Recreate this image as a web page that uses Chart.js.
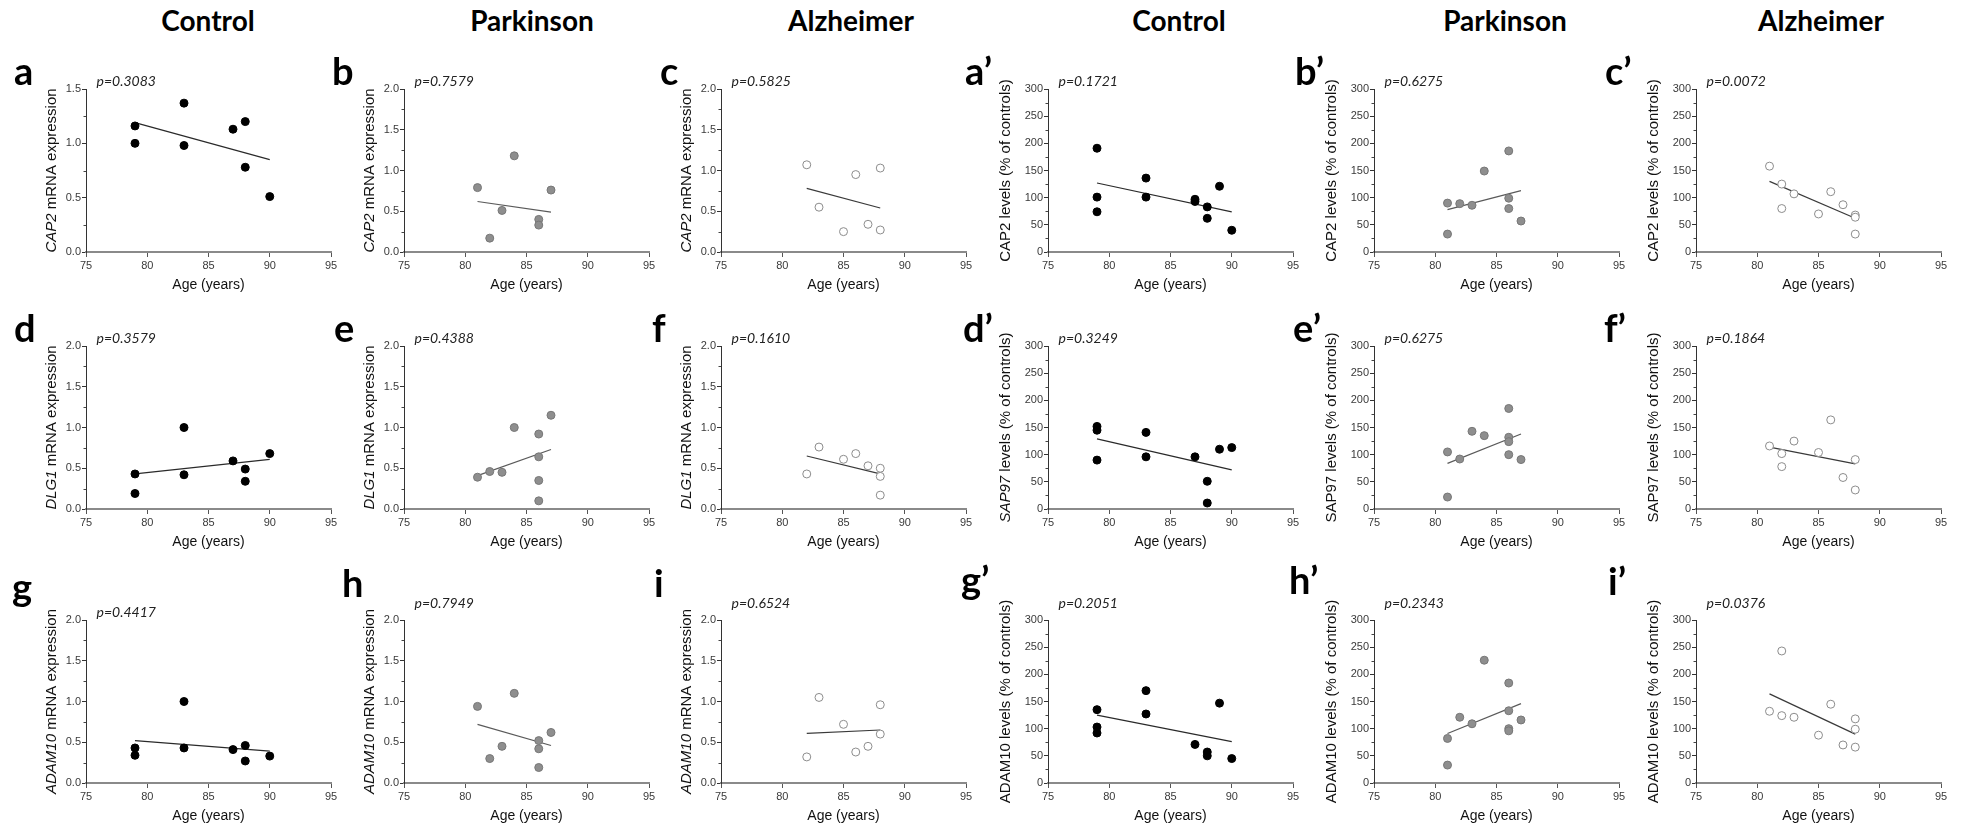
<!DOCTYPE html>
<html>
<head>
<meta charset="utf-8">
<title>CAP2, SAP97/DLG1 and ADAM10 versus age</title>
<script src="https://cdn.jsdelivr.net/npm/chart.js@4.4.1/dist/chart.umd.min.js"></script>
<style>
  html, body { margin: 0; padding: 0; background: #fff; }
  #fig { position: relative; width: 1964px; height: 830px; overflow: hidden; }
  #fig canvas { position: absolute; }
  .txt { position: absolute; white-space: nowrap; color: #000; line-height: 1.2; }
  .hdr { font: bold 28px Lato, "Open Sans", sans-serif; text-align: center; width: 300px; }
  .lbl { font: bold 38px Lato, "Open Sans", sans-serif; }
</style>
</head>
<body>
<div id="fig"></div>
<script>
// ---- data ----
const columnHeaders = ["Control", "Parkinson", "Alzheimer", "Control", "Parkinson", "Alzheimer"];
const panelLetters = ["a", "b", "c", "a’", "b’", "c’",
                      "d", "e", "f", "d’", "e’", "f’",
                      "g", "h", "i", "g’", "h’", "i’"];
const pValues = ["p=0.3083", "p=0.7579", "p=0.5825", "p=0.1721", "p=0.6275", "p=0.0072",
                 "p=0.3579", "p=0.4388", "p=0.1610", "p=0.3249", "p=0.6275", "p=0.1864",
                 "p=0.4417", "p=0.7949", "p=0.6524", "p=0.2051", "p=0.2343", "p=0.0376"];
const xTickMin = 75, xTickMax = 95, xTickStep = 5;

// mRNA expression (a-i), ages in years
const ageA = [79, 79, 83, 83, 87, 88, 88, 90];
const valA = [1.16, 1.00, 1.37, 0.98, 1.13, 1.20, 0.78, 0.51];
const fitA = [1.19, 0.85];
const ageB = [81, 82, 83, 84, 86, 86, 87];
const valB = [0.79, 0.17, 0.51, 1.18, 0.40, 0.33, 0.76];
const fitB = [0.62, 0.49];
const ageC = [82, 83, 85, 86, 87, 88, 88];
const valC = [1.07, 0.55, 0.25, 0.95, 0.34, 1.03, 0.27];
const fitC = [0.78, 0.54];
const ageD = [79, 79, 83, 83, 87, 88, 88, 90];
const valD = [0.43, 0.19, 1.00, 0.42, 0.59, 0.49, 0.34, 0.68];
const fitD = [0.43, 0.61];
const ageE = [81, 82, 83, 84, 86, 86, 86, 86, 87];
const valE = [0.39, 0.46, 0.45, 1.00, 0.92, 0.64, 0.35, 0.10, 1.15];
const fitE = [0.41, 0.73];
const ageF = [82, 83, 85, 86, 87, 88, 88, 88];
const valF = [0.43, 0.76, 0.61, 0.68, 0.53, 0.50, 0.40, 0.17];
const fitF = [0.65, 0.43];
const ageG = [79, 79, 83, 83, 87, 88, 88, 90];
const valG = [0.43, 0.34, 1.00, 0.43, 0.41, 0.46, 0.27, 0.33];
const fitG = [0.52, 0.39];
const ageH = [81, 82, 83, 84, 86, 86, 86, 87];
const valH = [0.94, 0.30, 0.45, 1.10, 0.52, 0.42, 0.19, 0.62];
const fitH = [0.72, 0.46];
const ageI = [82, 83, 85, 86, 87, 88, 88];
const valI = [0.32, 1.05, 0.72, 0.38, 0.45, 0.96, 0.60];
const fitI = [0.61, 0.65];

// protein levels, % of controls (a'-i')
const ageA2 = [79, 79, 79, 83, 83, 87, 87, 88, 88, 89, 90];
const valA2 = [191, 101, 74, 136, 101, 97, 93, 83, 62, 121, 40];
const fitA2 = [127, 74];
const ageB2 = [81, 81, 82, 83, 84, 86, 86, 86, 87];
const valB2 = [90, 33, 89, 86, 149, 186, 99, 80, 57];
const fitB2 = [78, 113];
const ageC2 = [81, 82, 82, 83, 85, 86, 87, 88, 88, 88];
const valC2 = [158, 125, 80, 107, 70, 111, 87, 68, 64, 33];
const fitC2 = [130, 62];
const ageD2 = [79, 79, 79, 83, 83, 87, 88, 88, 89, 90];
const valD2 = [152, 145, 90, 141, 96, 96, 51, 11, 110, 113];
const fitD2 = [129, 72];
const ageE2 = [81, 81, 82, 83, 84, 86, 86, 86, 86, 87];
const valE2 = [105, 22, 92, 143, 135, 185, 132, 124, 100, 91];
const fitE2 = [84, 138];
const ageF2 = [81, 82, 82, 83, 85, 86, 87, 88, 88];
const valF2 = [116, 102, 78, 125, 104, 164, 58, 91, 35];
const fitF2 = [114, 83];
const ageG2 = [79, 79, 79, 83, 83, 87, 88, 88, 89, 90];
const valG2 = [135, 103, 92, 170, 127, 71, 57, 50, 147, 45];
const fitG2 = [125, 76];
const ageH2 = [81, 81, 82, 83, 84, 86, 86, 86, 86, 87];
const valH2 = [82, 33, 121, 109, 226, 184, 133, 100, 96, 116];
const fitH2 = [91, 146];
const ageI2 = [81, 82, 82, 83, 85, 86, 87, 88, 88, 88];
const valI2 = [132, 243, 124, 121, 88, 145, 70, 118, 99, 66];
const fitI2 = [164, 90];

// y axis: titles (italic gene names) and ranges
const yTitles = [
  [["CAP2", true], [" mRNA expression"]], [["CAP2", true], [" mRNA expression"]], [["CAP2", true], [" mRNA expression"]],
  [["CAP2 levels (% of controls)"]], [["CAP2 levels (% of controls)"]], [["CAP2 levels (% of controls)"]],
  [["DLG1", true], [" mRNA expression"]], [["DLG1", true], [" mRNA expression"]], [["DLG1", true], [" mRNA expression"]],
  [["SAP97", true], [" levels (% of controls)"]], [["SAP97 levels (% of controls)"]], [["SAP97 levels (% of controls)"]],
  [["ADAM10", true], [" mRNA expression"]], [["ADAM10", true], [" mRNA expression"]], [["ADAM10", true], [" mRNA expression"]],
  [["ADAM10 levels (% of controls)"]], [["ADAM10 levels (% of controls)"]], [["ADAM10 levels (% of controls)"]]
];
const yMaxes = [1.5, 2, 2, 300, 300, 300,
                2, 2, 2, 300, 300, 300,
                2, 2, 2, 300, 300, 300];

const panelAges = [ageA, ageB, ageC, ageA2, ageB2, ageC2, ageD, ageE, ageF, ageD2, ageE2, ageF2, ageG, ageH, ageI, ageG2, ageH2, ageI2];
const panelVals = [valA, valB, valC, valA2, valB2, valC2, valD, valE, valF, valD2, valE2, valF2, valG, valH, valI, valG2, valH2, valI2];
const panelFits = [fitA, fitB, fitC, fitA2, fitB2, fitC2, fitD, fitE, fitF, fitD2, fitE2, fitF2, fitG, fitH, fitI, fitG2, fitH2, fitI2];

// ---- layout (page pixels) ----
const colLeft = [86, 404, 721, 1048, 1374, 1696];
const rowTop = [89, 346, 620];
const plotW = 245, plotH = 163;
const PAD_L = 75, PAD_R = 25, PAD_T = 45, PAD_B = 45;
const headerX = [208, 532, 851, 1179, 1505, 1821];
const headerBase = 31;
const letterPos = [[14, 85], [332, 85], [660, 85], [965, 85], [1295, 85], [1605, 85],
                   [14, 342], [334, 342], [652, 342], [963, 342], [1293, 342], [1604, 342],
                   [12, 601], [342, 597], [654, 597], [961, 594], [1289, 594], [1608, 595]];

const groupStyle = [
  { fill: "#000000", edge: "#000000", line: "#2a2a2a" },   // control
  { fill: "#8e8e8e", edge: "#777777", line: "#5a5a5a" },   // parkinson
  { fill: "#ffffff", edge: "#8c8c8c", line: "#3a3a3a" }    // alzheimer
];

Chart.defaults.font.family = "'Liberation Sans', Arial, sans-serif";

const yTitlePlugin = {
  id: "yTitle",
  afterDraw(chart, args, opts) {
    const { ctx, chartArea } = chart;
    ctx.save();
    ctx.translate(chartArea.left - opts.offset, (chartArea.top + chartArea.bottom) / 2);
    ctx.rotate(-Math.PI / 2);
    ctx.fillStyle = "#111";
    ctx.textBaseline = "middle";
    const fonts = opts.parts.map(p => (p[1] ? "italic " : "") + "15px 'Liberation Sans', Arial, sans-serif");
    let total = 0;
    const widths = opts.parts.map((p, k) => {
      ctx.font = fonts[k];
      const w = ctx.measureText(p[0]).width;
      total += w;
      return w;
    });
    let x = -total / 2;
    opts.parts.forEach((p, k) => {
      ctx.font = fonts[k];
      ctx.fillText(p[0], x, 0);
      x += widths[k];
    });
    ctx.restore();
  }
};

const pLabelPlugin = {
  id: "pLabel",
  afterDraw(chart, args, opts) {
    const { ctx, chartArea } = chart;
    ctx.save();
    ctx.font = "italic 14px Lato, 'Open Sans', sans-serif";
    ctx.fillStyle = "#222";
    ctx.textBaseline = "middle";
    ctx.fillText(opts.text, chartArea.left + 10.5, chartArea.top - opts.dy);
    ctx.restore();
  }
};

// one small tick between the labelled ones on the y axis
const minorTickPlugin = {
  id: "minorTicks",
  afterDraw(chart, args, opts) {
    const y = chart.scales.y, ctx = chart.ctx, x0 = chart.chartArea.left;
    ctx.save();
    ctx.strokeStyle = "#444";
    ctx.lineWidth = 1;
    ctx.beginPath();
    for (let v = opts.step / 2; v < y.max; v += opts.step) {
      const py = Math.round(y.getPixelForValue(v)) + 0.5;
      ctx.moveTo(x0, py);
      ctx.lineTo(x0 - 2.5, py);
    }
    ctx.stroke();
    ctx.restore();
  }
};

const fig = document.getElementById("fig");

function makePanel(i) {
  const col = i % 6, row = Math.floor(i / 6);
  const st = groupStyle[col % 3];
  const isLevels = col >= 3;
  const ages = panelAges[i], vals = panelVals[i], fit = panelFits[i];
  const yStep = isLevels ? 50 : 0.5;

  const canvas = document.createElement("canvas");
  canvas.width = PAD_L + plotW + PAD_R;
  canvas.height = PAD_T + plotH + PAD_B;
  canvas.style.left = (colLeft[col] - PAD_L) + "px";
  canvas.style.top = (rowTop[row] - PAD_T) + "px";
  fig.appendChild(canvas);

  new Chart(canvas, {
    type: "scatter",
    data: {
      datasets: [
        {
          data: ages.map((a, k) => ({ x: a, y: vals[k] })),
          pointRadius: 4,
          pointBackgroundColor: st.fill,
          pointBorderColor: st.edge,
          pointBorderWidth: 1
        },
        {
          type: "line",
          data: [{ x: Math.min(...ages), y: fit[0] }, { x: Math.max(...ages), y: fit[1] }],
          borderColor: st.line,
          borderWidth: 1.2,
          pointRadius: 0,
          fill: false
        }
      ]
    },
    options: {
      responsive: false,
      animation: false,
      events: [],
      layout: { padding: { left: 0, right: PAD_R, top: PAD_T, bottom: 0 } },
      plugins: {
        legend: { display: false },
        tooltip: { enabled: false },
        yTitle: { parts: yTitles[i], offset: isLevels ? 42 : 34 },
        pLabel: { text: pValues[i], dy: (row === 2 && col > 0) ? 17 : 8 },
        minorTicks: { step: yStep }
      },
      scales: {
        x: {
          type: "linear",
          min: xTickMin,
          max: xTickMax,
          ticks: { stepSize: xTickStep, color: "#3a3a3a", font: { size: 11 }, padding: 2, maxRotation: 0 },
          grid: { drawOnChartArea: false, tickLength: 5, color: "#555" },
          border: { color: "#8a8a8a", width: 2 },
          title: { display: true, text: "Age (years)", color: "#111", font: { size: 14 }, padding: { top: 0, bottom: 3.6 } },
          afterFit: s => { s.height = PAD_B; }
        },
        y: {
          min: 0,
          max: yMaxes[i],
          ticks: {
            stepSize: yStep, color: "#3a3a3a", font: { size: 11 }, padding: 1,
            callback: v => isLevels ? v : v.toFixed(1)
          },
          grid: { drawOnChartArea: false, tickLength: 4, color: "#333" },
          border: { color: "#333", width: 1 },
          afterFit: s => { s.width = PAD_L; }
        }
      }
    },
    plugins: [yTitlePlugin, pLabelPlugin, minorTickPlugin]
  });
}

// html text placed by its baseline
function placeText(cls, text, x, baseY, centered) {
  const d = document.createElement("div");
  d.className = "txt " + cls;
  d.textContent = text;
  const mark = document.createElement("span");
  mark.style.cssText = "display:inline-block;width:0;height:0;vertical-align:baseline";
  d.appendChild(mark);
  fig.appendChild(d);
  d.style.left = (centered ? x - 150 : x) + "px";
  d.style.top = (baseY - mark.offsetTop) + "px";
}

for (let i = 0; i < 18; i++) makePanel(i);
columnHeaders.forEach((h, c) => placeText("hdr", h, headerX[c], headerBase, true));
panelLetters.forEach((l, i) => placeText("lbl", l, letterPos[i][0], letterPos[i][1], false));
</script>
</body>
</html>
